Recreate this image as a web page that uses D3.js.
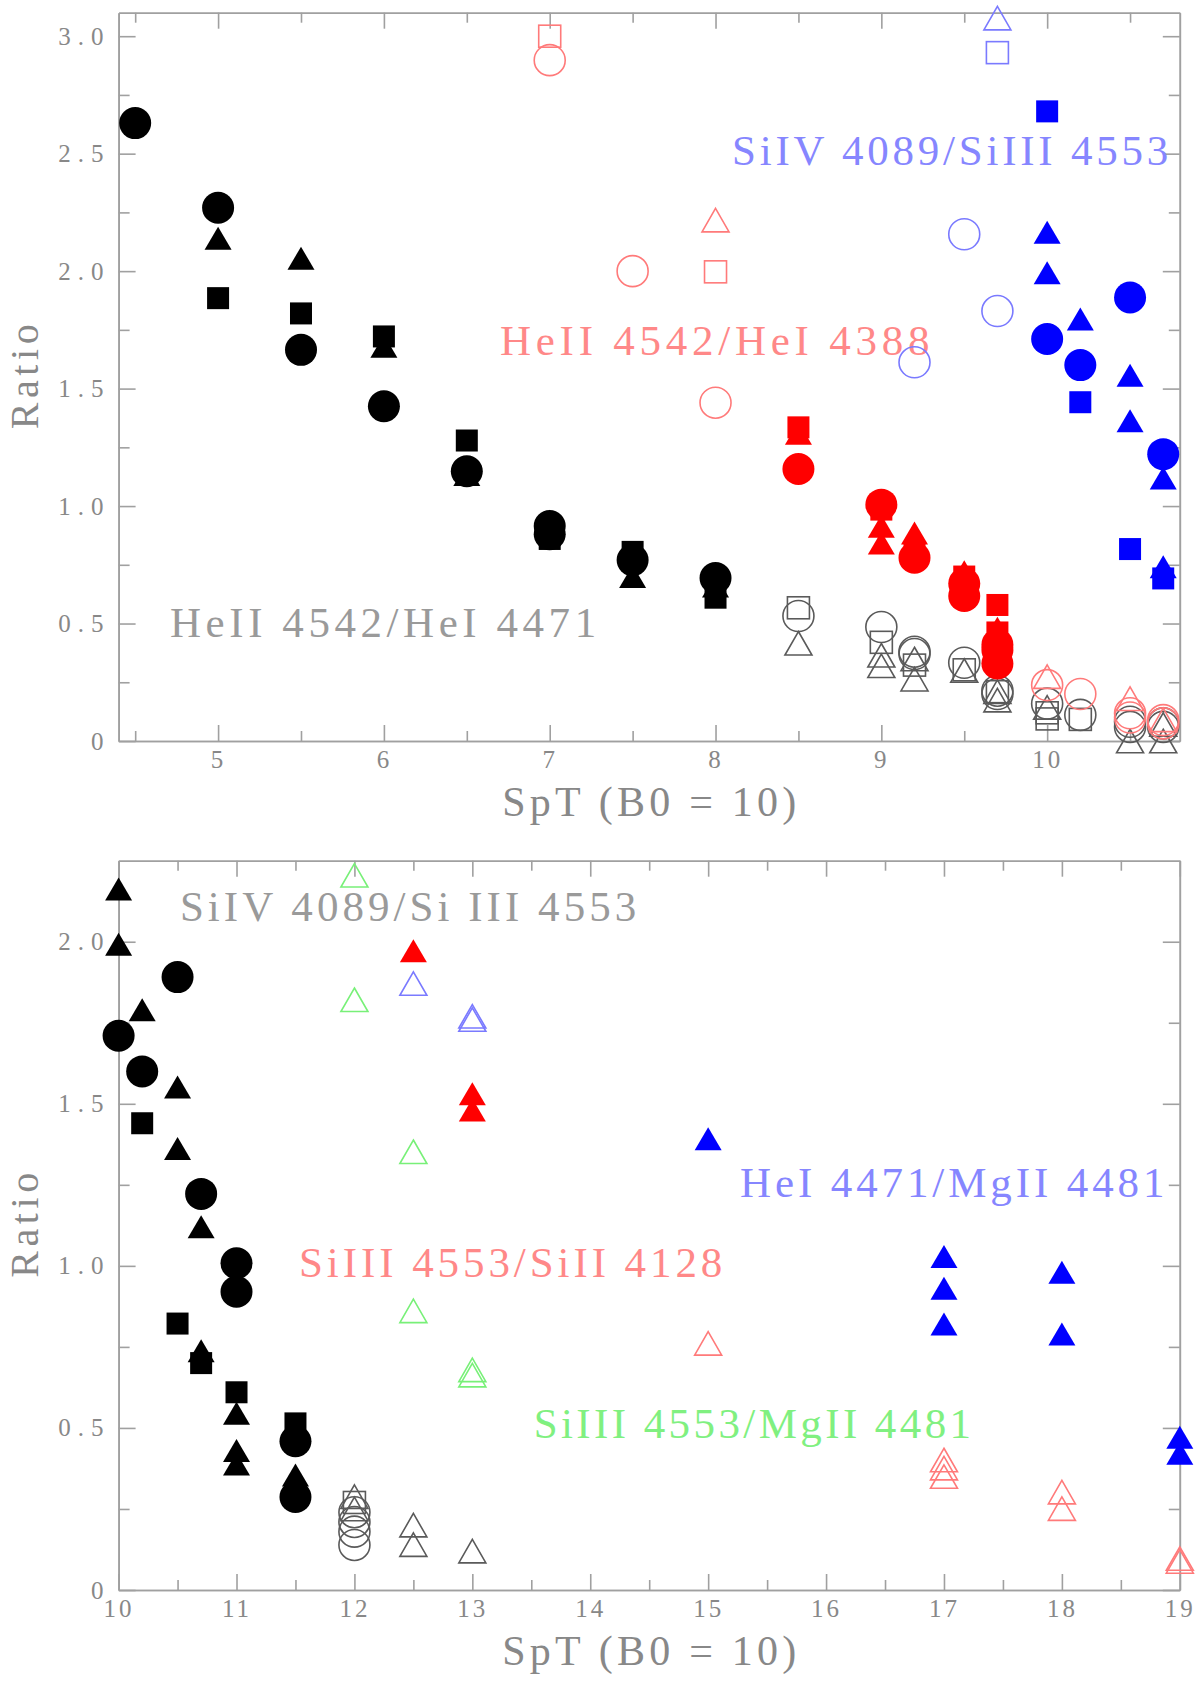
<!DOCTYPE html>
<html>
<head>
<meta charset="utf-8">
<script src="https://cdn.jsdelivr.net/npm/d3@7"></script>
<style>
body { margin: 0; background: #fff; }
text { font-family: "Liberation Serif", "DejaVu Serif", serif; }
</style>
</head>
<body>
<script>
//ratio vs spectral type, two panels (O stars on top, B stars below)

//---------- tick values ----------
var topXMajor = [5, 6, 7, 8, 9, 10];
var topXMinor = [4.5, 5.5, 6.5, 7.5, 8.5, 9.5, 10.5];
var topYMajor = [0, 0.5, 1, 1.5, 2, 2.5, 3];
var topYMinor = [0.25, 0.75, 1.25, 1.75, 2.25, 2.75];

var botXMajor = [10, 11, 12, 13, 14, 15, 16, 17, 18, 19];
var botXMinor = [10.5, 11.5, 12.5, 13.5, 14.5, 15.5, 16.5, 17.5, 18.5];
var botYMajor = [0, 0.5, 1, 1.5, 2];
var botYMinor = [0.25, 0.75, 1.25, 1.75];

//---------- top panel data [SpT, ratio] ----------
var topBlackCircle = [[4.5, 2.63], [5, 2.27], [5.5, 1.665], [6, 1.425], [6.5, 1.148], [7, 0.915], [7, 0.88], [7.5, 0.77], [8, 0.694]];
var topBlackSquare = [[5, 1.885], [5.5, 1.82], [6, 1.722], [6.5, 1.279], [7, 0.86], [7.5, 0.805], [8, 0.61]];
var topBlackTriangle = [[5, 2.14], [5.5, 2.055], [6, 1.68], [6.5, 1.134], [7, 0.935], [7.5, 0.70], [8, 0.66]];

var topRedCircle = [[8.5, 1.158], [9, 1.006], [9.2, 0.78], [9.5, 0.67], [9.5, 0.617], [9.7, 0.41], [9.7, 0.387], [9.7, 0.33]];
var topRedSquare = [[8.5, 1.335], [9, 0.985], [9.2, 0.80], [9.5, 0.70], [9.7, 0.579], [9.7, 0.462]];
var topRedTriangle = [[8.5, 1.31], [9, 0.914], [9, 0.843], [9.2, 0.885], [9.2, 0.845], [9.5, 0.72], [9.7, 0.48], [9.7, 0.44]];

var topBlueCircle = [[10, 1.711], [10.2, 1.60], [10.5, 1.888], [10.7, 1.221]];
var topBlueSquare = [[10, 2.68], [10.2, 1.442], [10.5, 0.817], [10.7, 0.692]];
var topBlueTriangle = [[10, 2.165], [10, 1.993], [10.2, 1.796], [10.5, 1.557], [10.5, 1.363], [10.7, 1.119], [10.7, 0.742]];

var topGrayCircle = [[8.5, 0.532], [9, 0.485], [9.2, 0.38], [9.2, 0.37], [9.5, 0.333], [9.7, 0.214], [9.7, 0.20], [10, 0.159], [10.2, 0.111], [10.5, 0.082], [10.5, 0.06], [10.7, 0.075], [10.7, 0.06]];
var topGraySquare = [[8.5, 0.567], [9, 0.42], [9.2, 0.323], [9.5, 0.303], [9.7, 0.21], [10, 0.12], [10, 0.094], [10.2, 0.092]];
var topGrayTriangle = [[8.5, 0.416], [9, 0.365], [9, 0.32], [9.2, 0.349], [9.2, 0.263], [9.5, 0.30], [9.7, 0.21], [9.7, 0.174], [10, 0.143], [10.5, 0.0], [10.7, 0.07], [10.7, 0.0]];

var topPinkCircle = [[7, 2.898], [7.5, 2.0], [8, 1.44], [10, 0.238], [10.2, 0.2], [10.5, 0.118], [10.5, 0.10], [10.7, 0.089], [10.7, 0.075]];
var topPinkSquare = [[7, 3.0], [8, 1.997]];
var topPinkTriangle = [[8, 2.217], [10, 0.274], [10.5, 0.18], [10.7, 0.09]];

var topPaleBlueCircle = [[9.2, 1.612], [9.5, 2.157], [9.7, 1.83]];
var topPaleBlueSquare = [[9.7, 2.93]];
var topPaleBlueTriangle = [[9.7, 3.077]];

//---------- bottom panel data [SpT, ratio] ----------
var botBlackCircle = [[10, 1.71], [10.2, 1.60], [10.5, 1.891], [10.7, 1.222], [11, 1.008], [11, 0.92], [11.5, 0.459], [11.5, 0.287]];
var botBlackSquare = [[10.2, 1.44], [10.5, 0.822], [10.7, 0.70], [11, 0.61], [11.5, 0.514]];
var botBlackTriangle = [[10, 2.163], [10, 1.992], [10.2, 1.79], [10.5, 1.552], [10.5, 1.362], [10.7, 1.121], [10.7, 0.738], [11, 0.545], [11, 0.43], [11, 0.389], [11.5, 0.355], [11.5, 0.33]];

var botGrayCircle = [[12, 0.24], [12, 0.21], [12, 0.18], [12, 0.139]];
var botGraySquare = [[12, 0.27]];
var botGrayTriangle = [[12, 0.288], [12, 0.25], [12.5, 0.2], [12.5, 0.14], [13, 0.12]];

var botRedTriangle = [[12.5, 1.972], [13, 1.531], [13, 1.481]];
var botPinkTriangle = [[15, 0.761], [17, 0.401], [17, 0.376], [17, 0.35], [18, 0.302], [18, 0.251], [19, 0.097], [19, 0.088]];
var botBlueTriangle = [[15, 1.392], [17, 1.029], [17, 0.931], [17, 0.821], [18, 0.98], [18, 0.79], [19, 0.471], [19, 0.422]];
var botPaleBlueTriangle = [[12.5, 1.871], [13, 1.77], [13, 1.76]];
var botGreenTriangle = [[12, 2.205], [12, 1.821], [12.5, 1.352], [12.5, 0.861], [13, 0.679], [13, 0.663]];

//---------- labels inside the panels (data units: left, right, baseline) ----------
var topNotes = [
    {text: "SiIV 4089/SiIII 4553", x0: 8.10, x1: 10.73, y: 2.451, tone: "paleBlue"},
    {text: "HeII 4542/HeI 4388", x0: 6.70, x1: 9.29, y: 1.643, tone: "pink"},
    {text: "HeII 4542/HeI 4471", x0: 4.71, x1: 7.28, y: 0.443, tone: "gray"}
];
var botNotes = [
    {text: "SiIV 4089/Si III 4553", x0: 10.52, x1: 14.39, y: 2.065, tone: "gray"},
    {text: "HeI 4471/MgII 4481", x0: 15.27, x1: 18.87, y: 1.213, tone: "paleBlue"},
    {text: "SiIII 4553/SiII 4128", x0: 11.53, x1: 15.12, y: 0.966, tone: "pink"},
    {text: "SiIII 4553/MgII 4481", x0: 13.52, x1: 17.23, y: 0.469, tone: "green"}
];

//colours
var colors = {
    black: "#000000",
    red: "#ff0000",
    blue: "#0000ff",
    gray: "#5a5a5a",
    pink: "#ff7a7a",
    paleBlue: "#7a7aff",
    green: "#78f078"
};
var noteColors = {gray: "#9a9a9a", pink: "#ff8888", paleBlue: "#8686ff", green: "#80f080"};
var axisColor = "#a0a0a0", labelColor = "#888888";

//series tables (draw order = list order)
var topSeries = [
    {pts: topGrayCircle, shape: "circle", tone: "gray", filled: false},
    {pts: topGraySquare, shape: "square", tone: "gray", filled: false},
    {pts: topGrayTriangle, shape: "triangle", tone: "gray", filled: false},
    {pts: topBlackSquare, shape: "square", tone: "black", filled: true},
    {pts: topBlackTriangle, shape: "triangle", tone: "black", filled: true},
    {pts: topBlackCircle, shape: "circle", tone: "black", filled: true},
    {pts: topRedSquare, shape: "square", tone: "red", filled: true},
    {pts: topRedTriangle, shape: "triangle", tone: "red", filled: true},
    {pts: topRedCircle, shape: "circle", tone: "red", filled: true},
    {pts: topBlueSquare, shape: "square", tone: "blue", filled: true},
    {pts: topBlueTriangle, shape: "triangle", tone: "blue", filled: true},
    {pts: topBlueCircle, shape: "circle", tone: "blue", filled: true},
    {pts: topPinkCircle, shape: "circle", tone: "pink", filled: false},
    {pts: topPinkSquare, shape: "square", tone: "pink", filled: false},
    {pts: topPinkTriangle, shape: "triangle", tone: "pink", filled: false},
    {pts: topPaleBlueCircle, shape: "circle", tone: "paleBlue", filled: false},
    {pts: topPaleBlueSquare, shape: "square", tone: "paleBlue", filled: false},
    {pts: topPaleBlueTriangle, shape: "triangle", tone: "paleBlue", filled: false}
];
var botSeries = [
    {pts: botGrayCircle, shape: "circle", tone: "gray", filled: false},
    {pts: botGraySquare, shape: "square", tone: "gray", filled: false},
    {pts: botGrayTriangle, shape: "triangle", tone: "gray", filled: false},
    {pts: botBlackSquare, shape: "square", tone: "black", filled: true},
    {pts: botBlackTriangle, shape: "triangle", tone: "black", filled: true},
    {pts: botBlackCircle, shape: "circle", tone: "black", filled: true},
    {pts: botRedTriangle, shape: "triangle", tone: "red", filled: true},
    {pts: botBlueTriangle, shape: "triangle", tone: "blue", filled: true},
    {pts: botPinkTriangle, shape: "triangle", tone: "pink", filled: false},
    {pts: botPaleBlueTriangle, shape: "triangle", tone: "paleBlue", filled: false},
    {pts: botGreenTriangle, shape: "triangle", tone: "green", filled: false}
];

//---------- page ----------
var w = 1200, h = 1682;
var left = 118.6, right = 1179.8;

var container = d3.select("body")
    .append("svg")
    .attr("width", w)
    .attr("height", h)
    .attr("class", "container")
    .style("background-color", "#ffffff");

var panels = [
    {top: 12.7, bottom: 741, xDomain: [4.4, 10.8], yDomain: [0, 3.1],
        xMajor: topXMajor, xMinor: topXMinor, yMajor: topYMajor, yMinor: topYMinor,
        series: topSeries, notes: topNotes},
    {top: 860.7, bottom: 1590, xDomain: [10, 19], yDomain: [0, 2.25],
        xMajor: botXMajor, xMinor: botXMinor, yMajor: botYMajor, yMinor: botYMinor,
        series: botSeries, notes: botNotes}
];

var yFormat = function(d){
    return d === 0 ? "0" : d3.format(".1f")(d);
};

//style an axis group drawn by d3
function styleAxis(g){
    g.attr("font-family", null).attr("font-size", null);
    g.selectAll("path, line")
        .attr("stroke", axisColor)
        .attr("stroke-width", 1.6);
    g.selectAll("text")
        .attr("fill", labelColor)
        .style("font-size", "25px");
}

panels.forEach(function(p){
    var x = d3.scaleLinear()
        .domain(p.xDomain)
        .range([left, right]);
    var y = d3.scaleLinear()
        .domain(p.yDomain)
        .range([p.bottom, p.top]);

    var panel = container.append("g")
        .attr("class", "panel");

    //frame + ticks, all pointing inward like the original plot
    var axes = panel.append("g").attr("class", "axes");

    axes.append("g")
        .attr("transform", "translate(0," + p.bottom + ")")
        .call(d3.axisBottom(x).tickValues(p.xMinor).tickSize(-10).tickSizeOuter(0).tickFormat(""))
        .call(styleAxis);
    axes.append("g")
        .attr("class", "xLabels")
        .attr("transform", "translate(0," + p.bottom + ")")
        .call(d3.axisBottom(x).tickValues(p.xMajor).tickSize(-16).tickSizeOuter(0).tickPadding(9).tickFormat(d3.format("d")))
        .call(styleAxis);
    axes.append("g")
        .attr("transform", "translate(0," + p.top + ")")
        .call(d3.axisTop(x).tickValues(p.xMinor).tickSize(-10).tickSizeOuter(0).tickFormat(""))
        .call(styleAxis);
    axes.append("g")
        .attr("transform", "translate(0," + p.top + ")")
        .call(d3.axisTop(x).tickValues(p.xMajor).tickSize(-16).tickSizeOuter(0).tickFormat(""))
        .call(styleAxis);
    axes.append("g")
        .attr("transform", "translate(" + left + ",0)")
        .call(d3.axisLeft(y).tickValues(p.yMinor).tickSize(-11).tickSizeOuter(0).tickFormat(""))
        .call(styleAxis);
    axes.append("g")
        .attr("class", "yLabels")
        .attr("transform", "translate(" + left + ",0)")
        .call(d3.axisLeft(y).tickValues(p.yMajor).tickSize(-17).tickSizeOuter(0).tickPadding(8).tickFormat(yFormat))
        .call(styleAxis);
    axes.append("g")
        .attr("transform", "translate(" + right + ",0)")
        .call(d3.axisRight(y).tickValues(p.yMinor).tickSize(-11).tickSizeOuter(0).tickFormat(""))
        .call(styleAxis);
    axes.append("g")
        .attr("transform", "translate(" + right + ",0)")
        .call(d3.axisRight(y).tickValues(p.yMajor).tickSize(-17).tickSizeOuter(0).tickFormat(""))
        .call(styleAxis);

    axes.selectAll(".xLabels text").style("letter-spacing", "3px");
    axes.selectAll(".yLabels text").style("letter-spacing", "7px");

    //axis titles
    panel.append("text")
        .attr("class", "xTitle")
        .attr("text-anchor", "middle")
        .attr("x", (left + right) / 2)
        .attr("y", p.bottom + 75)
        .attr("textLength", 294)
        .attr("lengthAdjust", "spacing")
        .style("font-size", "42px")
        .attr("fill", labelColor)
        .text("SpT (B0 = 10)");

    panel.append("text")
        .attr("class", "yTitle")
        .attr("text-anchor", "middle")
        .attr("transform", "translate(38," + (p.top + p.bottom) / 2 + ") rotate(-90)")
        .attr("textLength", 105)
        .attr("lengthAdjust", "spacing")
        .style("font-size", "40px")
        .attr("fill", labelColor)
        .text("Ratio");

    //in-panel labels
    panel.selectAll(".note")
        .data(p.notes)
        .enter()
        .append("text")
        .attr("class", "note")
        .attr("x", function(d){ return x(d.x0); })
        .attr("y", function(d){ return y(d.y); })
        .attr("textLength", function(d){ return x(d.x1) - x(d.x0); })
        .attr("lengthAdjust", "spacing")
        .style("font-size", "43px")
        .attr("fill", function(d){ return noteColors[d.tone]; })
        .text(function(d){ return d.text; });

    //markers
    p.series.forEach(function(s){
        var col = colors[s.tone];
        var marks = panel.append("g")
            .attr("class", "series")
            .selectAll(".mark")
            .data(s.pts)
            .enter();

        var el;
        if (s.shape === "circle"){
            el = marks.append("circle")
                .attr("cx", function(d){ return x(d[0]); })
                .attr("cy", function(d){ return y(d[1]); })
                .attr("r", s.filled ? 16 : 15.5);
        } else if (s.shape === "square"){
            var side = 22;
            el = marks.append("rect")
                .attr("x", function(d){ return x(d[0]) - side / 2; })
                .attr("y", function(d){ return y(d[1]) - side / 2; })
                .attr("width", side)
                .attr("height", side);
        } else {
            var tw = 27, th = s.filled ? 23 : 23.5;
            el = marks.append("path")
                .attr("d", function(d){
                    var cx = x(d[0]), cy = y(d[1]);
                    var path = d3.path();
                    path.moveTo(cx, cy - th / 2);
                    path.lineTo(cx + tw / 2, cy + th / 2);
                    path.lineTo(cx - tw / 2, cy + th / 2);
                    path.closePath();
                    return path.toString();
                });
        }
        el.attr("class", "mark")
            .attr("fill", s.filled ? col : "none")
            .attr("stroke", s.filled ? "none" : col)
            .attr("stroke-width", s.filled ? 0 : 1.6);
    });
});
</script>
</body>
</html>
